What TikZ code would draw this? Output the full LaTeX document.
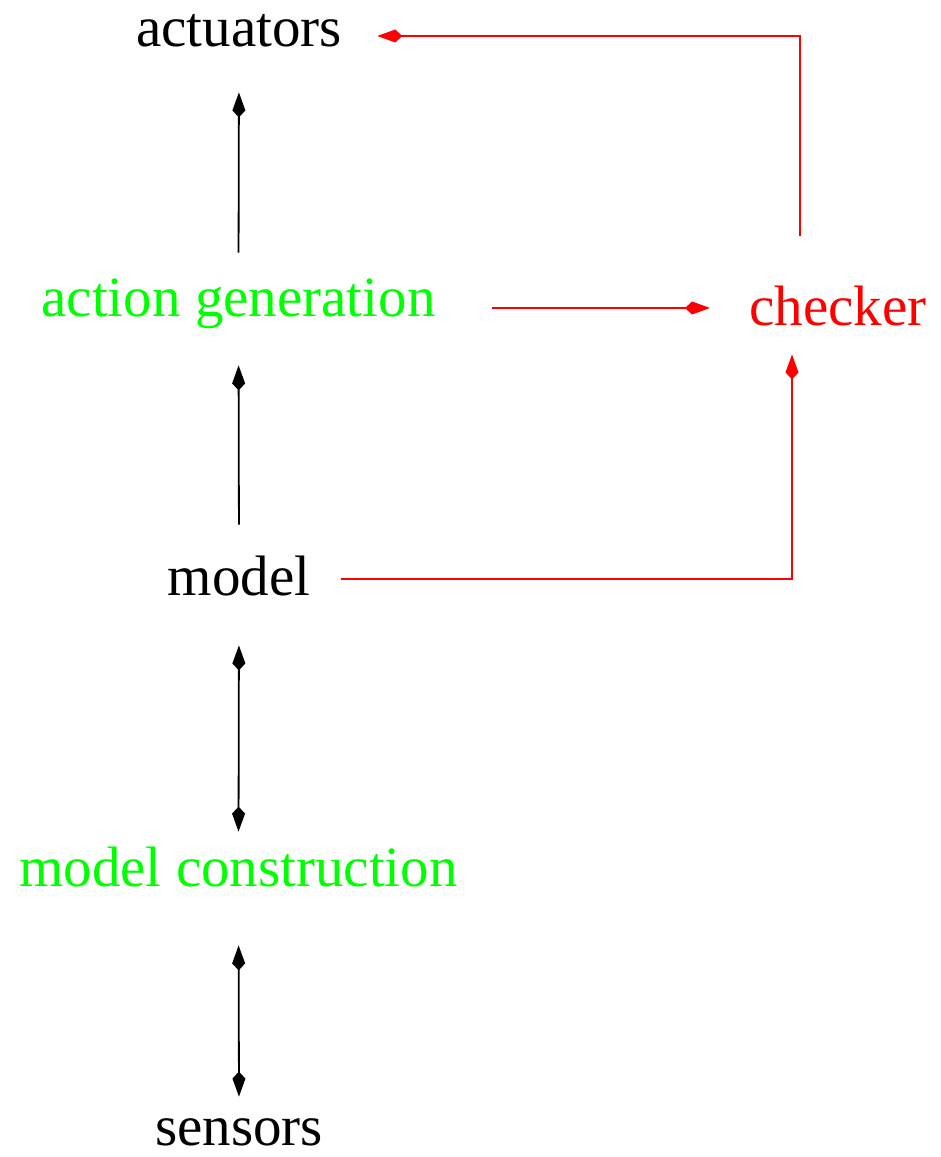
\documentclass[tikz,border=0pt]{standalone}
\usepackage{fontspec}
\setmainfont{Liberation Serif}
\usepackage{tikz}
\usetikzlibrary{arrows.meta}
\usepackage{xcolor}

\begin{document}
\begin{tikzpicture}[
    x=0.5pt,y=-0.5pt,
    lbl/.style={anchor=base,inner sep=0pt,text height=20pt,text depth=6pt,font=\fontsize{28.5}{34}\selectfont},
    tip/.style={Kite[length=12.5pt,width=6.5pt,inset=3.5pt]},
    arr/.style={-{Kite[length=12.5pt,width=6.5pt,inset=3.5pt]},line width=0.9pt},
    darr/.style={{Kite[length=12.5pt,width=6.5pt,inset=3.5pt]}-{Kite[length=12.5pt,width=6.5pt,inset=3.5pt]},line width=0.9pt},
    rarr/.style={arr,red,line width=0.75pt}
]
\useasboundingbox (0,0) rectangle (941,1157);
\node[lbl] (act) at (239,46) {actuators};
\node[lbl,green] (actgen) at (238.5,316) {action generation};
\node[lbl,red] (chk) at (838,325) {checker};
\node[lbl] (model) at (239,595) {model};
\node[lbl,green] (mcons) at (238.5,886) {model construction};
\node[lbl] (sens) at (239,1145) {sensors};
\draw[arr,shorten <=11.5pt,shorten >=17pt] (actgen.north)--(act.south);
\draw[arr,shorten <=15pt,shorten >=18.5pt] (model.north)--(actgen.south);
\draw[darr,shorten <=19pt,shorten >=7pt] (model.south)--(mcons.north);
\draw[darr,shorten <=23.5pt,shorten >=4pt] (mcons.south)--(sens.north);
\draw[rarr,shorten <=28pt,shorten >=19.5pt] ([yshift=-3pt]actgen.east)--([yshift=-3pt]actgen.east -| chk.west);
\draw[rarr,shorten <=15pt,shorten >=8.5pt] ([yshift=1pt]model.east)-|([xshift=-23pt]chk.south);
\draw[rarr,shorten <=24.5pt,shorten >=17.5pt] ([xshift=-19pt]chk.north)|-([yshift=-2pt]act.east);
\end{tikzpicture}
\end{document}
